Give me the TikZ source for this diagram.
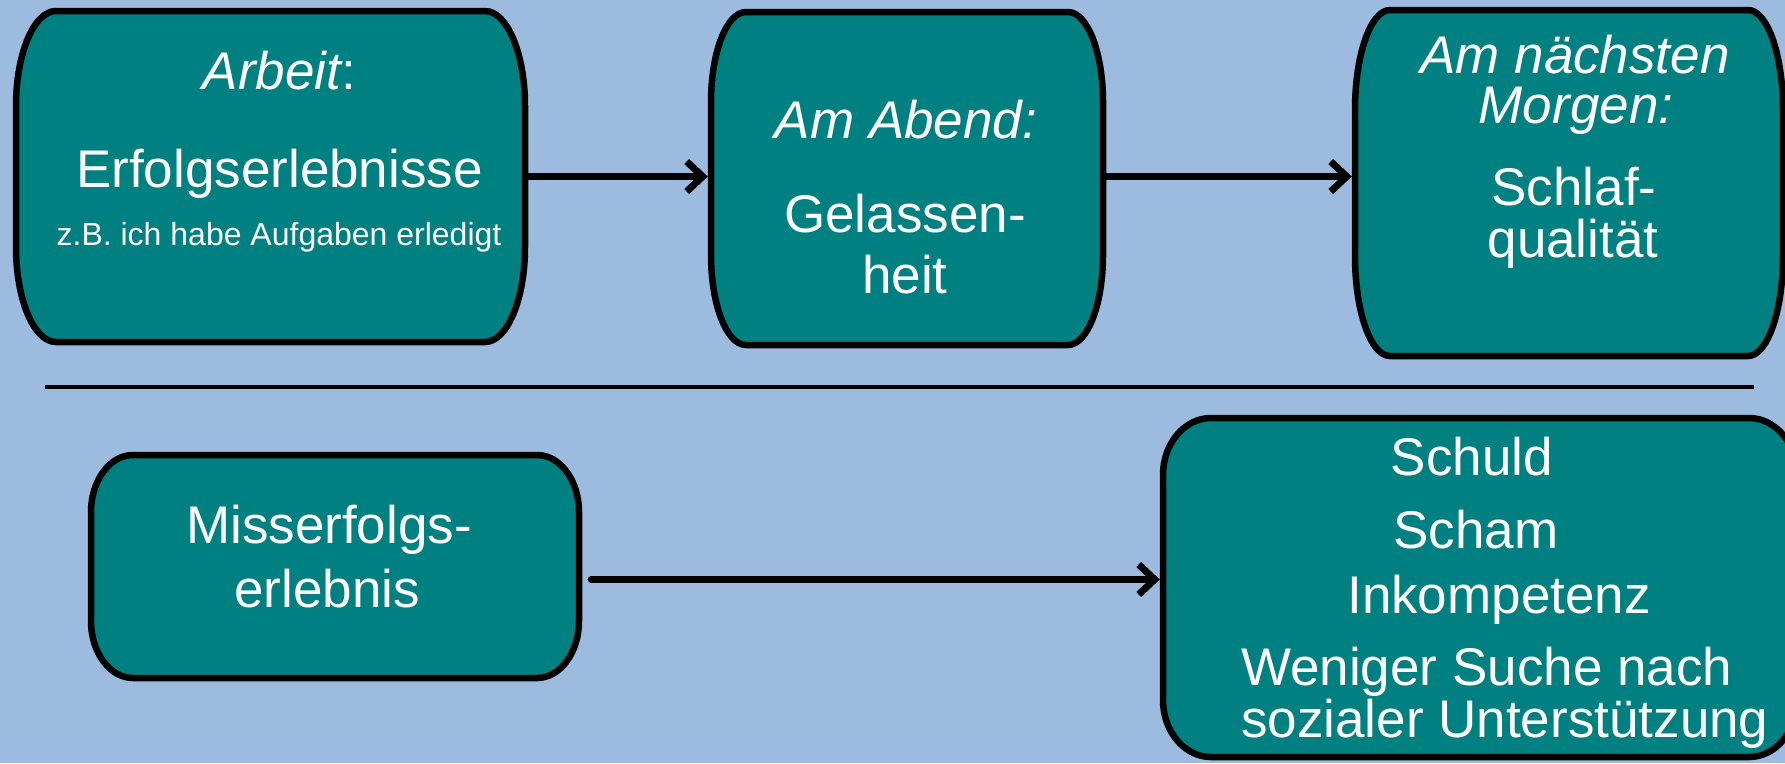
\documentclass[tikz,border=0pt]{standalone}
\usepackage{fontspec}
\setmainfont{Liberation Sans}
\usetikzlibrary{arrows.meta,calc}
\definecolor{bgblue}{RGB}{157,187,223}
\definecolor{boxteal}{RGB}{0,128,128}
\tikzset{
  boxline/.style={draw=black, line width=6.5pt, fill=boxteal, line join=round},
  txt/.style={text=white, inner sep=0pt, anchor=base, font=\fontsize{53}{60}\selectfont},
  smalltxt/.style={text=white, inner sep=0pt, anchor=base, font=\fontsize{32}{38}\selectfont},
  arr/.style={draw=black, line width=7pt, line cap=round, line join=round, shorten >=3pt,
    -{Straight Barb[length=16pt,width=30pt]}},
  sepline/.style={draw=black, line width=4.5pt},
}
% name, L, T, R, B, rx, ry
\newcommand\ebox[7]{%
  \node[inner sep=0pt, minimum width={(#4-#2)*1pt}, minimum height={(#5-#3)*1pt}] (#1) at ({(#2+#4)/2},{(#3+#5)/2}) {};
  \path[boxline] (#2+#6,#3) -- (#4-#6,#3)
    arc[start angle=90, end angle=0, x radius=#6pt, y radius=#7pt]
    -- (#4,#5-#7)
    arc[start angle=0, end angle=-90, x radius=#6pt, y radius=#7pt]
    -- (#2+#6,#5)
    arc[start angle=270, end angle=180, x radius=#6pt, y radius=#7pt]
    -- (#2,#3+#7)
    arc[start angle=180, end angle=90, x radius=#6pt, y radius=#7pt]
    -- cycle;
}
\begin{document}
\begin{tikzpicture}[x=1pt,y=-1pt]
\useasboundingbox (0,0) rectangle (1785,763);
\clip (0,0) rectangle (1785,763);
\fill[bgblue] (0,0) rectangle (1785,763);

\ebox{b1}{16}{11}{525}{342}{40}{95}
\ebox{b2}{711}{12}{1103}{345}{35}{90}
\ebox{b3}{1355}{10}{1783}{356}{35}{100}
\ebox{b4}{91}{455}{579}{678}{42}{57}
\ebox{b5}{1163}{418}{1797}{757}{48}{57}

\coordinate (r1) at (0,176.5);
\coordinate (r2) at (0,579.5);
\draw[arr] (b1.east |- r1) -- (b2.west |- r1);
\draw[arr] (b2.east |- r1) -- (b3.west |- r1);
\draw[arr] ([xshift=12pt]b4.east |- r2) -- (b5.west |- r2);

\coordinate (s1) at (45,387);
\coordinate (s2) at (1754,387);
\draw[sepline] (s1) -- (s2);

\node[txt] (t1a) at (279.5,89) {\itshape Arbeit\upshape:};
\node[txt] (t1b) at (279.5,187) {Erfolgserlebnisse};
\node[smalltxt] (t1c) at (279,245) {z.B. ich habe Aufgaben erledigt};

\node[txt] (t2a) at (906,138) {\itshape Am Abend:};
\node[txt] (t2b) at (905,232) {Gelassen-};
\node[txt] (t2c) at (905,293) {heit};

\node[txt] (t3a) at (1575,73) {\itshape Am nächsten};
\node[txt] (t3b) at (1576,123) {\itshape Morgen:};
\node[txt] (t3c) at (1574,205) {Schlaf-};
\node[txt] (t3d) at (1573,257) {qualität};

\node[txt] (t4a) at (329,543) {Misserfolgs-};
\node[txt] (t4b) at (327,607) {erlebnis};

\node[txt] (t5a) at (1472,475) {Schuld};
\node[txt] (t5b) at (1476,548) {Scham};
\node[txt] (t5c) at (1499,613) {Inkompetenz};
\node[txt,anchor=base west] (t5d) at (1241,685) {Weniger Suche nach};
\node[txt,anchor=base west] (t5e) at (1241,737) {sozialer Unterstützung};
\end{tikzpicture}
\end{document}
